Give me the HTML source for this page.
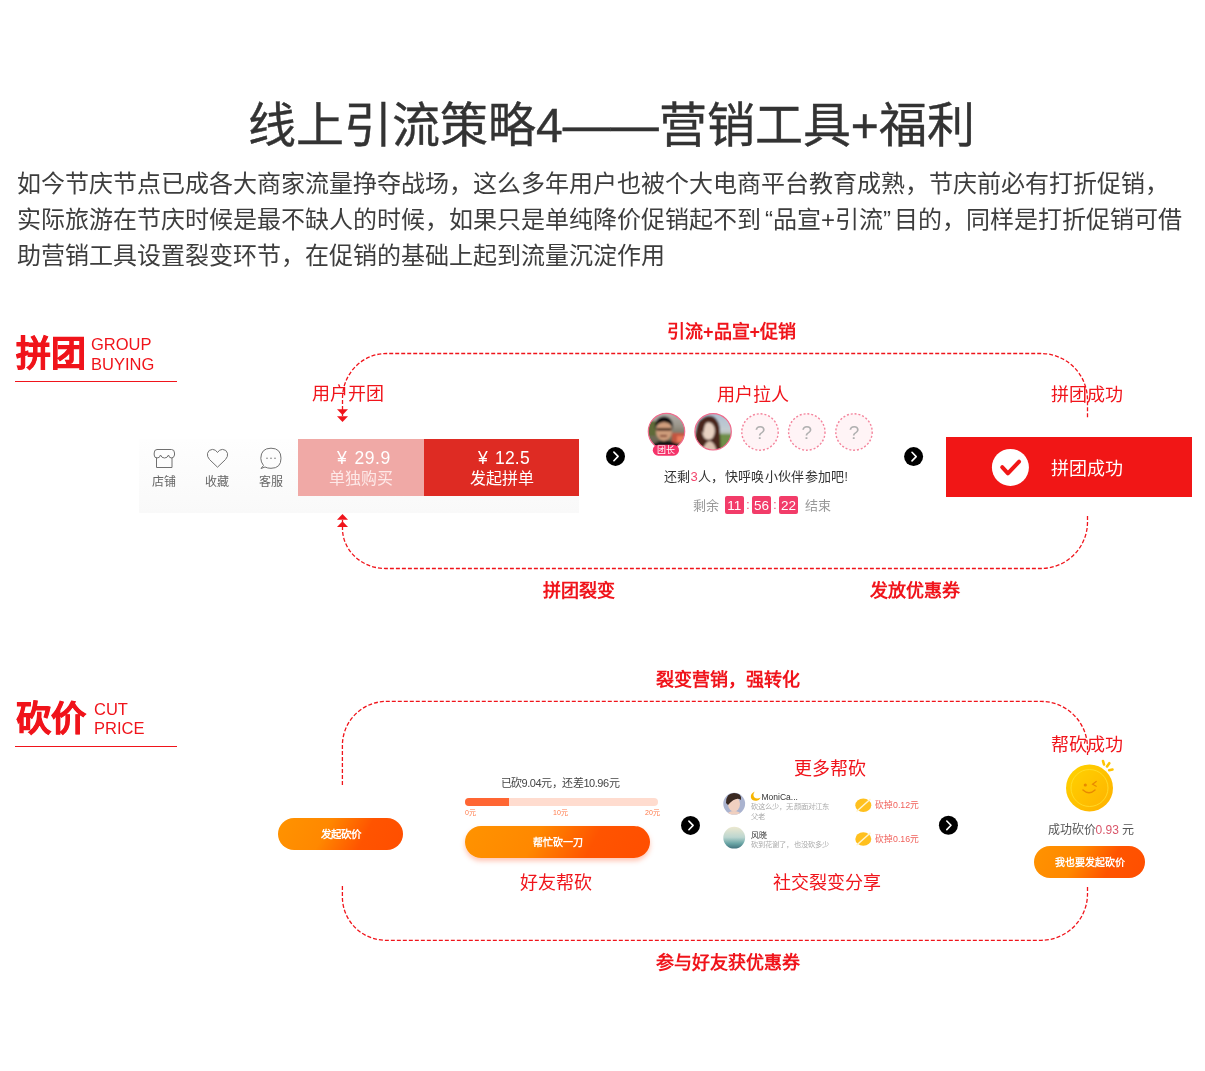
<!DOCTYPE html>
<html lang="zh-CN"><head><meta charset="utf-8">
<style>
html,body{margin:0;padding:0;background:#fff;}
body{width:1205px;height:1071px;position:relative;overflow:hidden;font-family:"Liberation Sans",sans-serif;}
.a{position:absolute;white-space:nowrap;line-height:1;}
.r{color:#f0141b;}
.b{font-weight:bold;}
#svg{position:absolute;left:0;top:0;}
</style></head><body>
<div id="wrap" style="position:absolute;left:0;top:0;width:1205px;height:1071px;will-change:transform;">

<!-- Title -->
<div class="a" style="left:248px;top:101.5px;font-size:48px;color:#333;-webkit-text-stroke:0.4px #333;">线上引流策略4——营销工具+福利</div>
<div class="a" style="left:17px;top:166px;font-size:24px;line-height:36px;color:#3d3d3d;">如今节庆节点已成各大商家流量挣夺战场，这么多年用户也被个大电商平台教育成熟，节庆前必有打折促销，</div>
<div class="a" style="left:17px;top:202px;font-size:24px;line-height:36px;color:#3d3d3d;">实际旅游在节庆时候是最不缺人的时候，如果只是单纯降价促销起不到<span style="display:inline-block;width:12px;text-align:right">“</span>品宣+引流<span style="display:inline-block;width:11px">”</span>目的，同样是打折促销可借</div>
<div class="a" style="left:17px;top:238px;font-size:24px;line-height:36px;color:#3d3d3d;">助营销工具设置裂变环节，在促销的基础上起到流量沉淀作用</div>

<!-- Section 1 header -->
<div class="a r b" style="left:16px;top:336px;font-size:35px;-webkit-text-stroke:0.8px #f0141b;">拼团</div>
<div class="a r" style="left:91px;top:335.5px;font-size:16.5px;">GROUP</div>
<div class="a r" style="left:91px;top:355.5px;font-size:16.5px;">BUYING</div>
<div class="a" style="left:15px;top:381px;width:162px;height:1.2px;background:#f0141b;"></div>

<!-- Section 2 header -->
<div class="a r b" style="left:16px;top:701px;font-size:35px;-webkit-text-stroke:0.8px #f0141b;">砍价</div>
<div class="a r" style="left:94px;top:700.5px;font-size:16.5px;">CUT</div>
<div class="a r" style="left:94px;top:720px;font-size:16.5px;">PRICE</div>
<div class="a" style="left:15px;top:746px;width:162px;height:1.2px;background:#f0141b;"></div>

<svg id="svg" width="1205" height="1071" viewBox="0 0 1205 1071">
 <g fill="none" stroke="#f0141b" stroke-width="1.3" stroke-dasharray="4 2">
  <!-- loop 1 -->
  <path d="M342.5 416 L342.5 399 A44 45 0 0 1 386.5 353.5 L1041 353.5 A46.5 46.5 0 0 1 1087.5 400 L1087.5 418"/>
  <path d="M342.5 520 L342.5 529 A43 40 0 0 0 385.5 568.5 L1041 568.5 A46.5 46.5 0 0 0 1087.5 522 L1087.5 515"/>
  <!-- loop 2 -->
  <path d="M342.4 785 L342.4 745.5 A44 44 0 0 1 386.4 701.4 L1041 701.4 A46.5 46.5 0 0 1 1087.5 748 L1087.5 755"/>
  <path d="M342.4 886 L342.4 897 A43.5 43.3 0 0 0 385.9 940.3 L1041 940.3 A46.5 46.5 0 0 0 1087.5 893.8 L1087.5 886"/>
 </g>
 <g fill="#f0141b">
  <path d="M337 409.3 L348 409.3 L342.5 415 Z"/>
  <path d="M337 416.3 L348 416.3 L342.5 422 Z"/>
  <path d="M337 519.7 L348 519.7 L342.5 514 Z"/>
  <path d="M337 527 L348 527 L342.5 521.3 Z"/>
 </g>
</svg>


<!-- product bar -->
<div class="a" style="left:139px;top:439px;width:440px;height:74px;background:linear-gradient(#fefefe,#f9f9f9);"></div>
<div class="a" style="left:298px;top:439px;width:126px;height:57px;background:#f0a9a6;"></div>
<div class="a" style="left:424px;top:439px;width:155px;height:57px;background:#de2b23;"></div>
<div class="a" style="left:337px;top:450px;font-size:17.5px;letter-spacing:0.5px;word-spacing:2px;color:#fff;">¥ 29.9</div>
<div class="a" style="left:298px;top:470.5px;width:126px;text-align:center;font-size:16px;color:#fde9e8;">单独购买</div>
<div class="a" style="left:478px;top:450px;font-size:17.5px;letter-spacing:0.2px;word-spacing:2px;color:#fff;">¥ 12.5</div>
<div class="a" style="left:424px;top:470.5px;width:155px;text-align:center;font-size:16px;color:#fff;">发起拼单</div>
<svg class="a" style="left:139px;top:439px" width="160" height="60" viewBox="139 439 160 60">
 <g fill="none" stroke="#707070" stroke-width="1">
  <path d="M156.5 457.5 L156.5 467.5 L172 467.5 L172 457.5"/>
  <path d="M157 449.5 L171.5 449.5 Q174.5 449.5 174.5 453 L174.5 455 Q174 458 171.5 458 Q169 458 168.5 455 Q167.5 458 164.5 458 Q161.5 458 160.5 455 Q160 458 157 458 Q154.3 458 154.2 455 L154.2 453 Q154.2 449.5 157 449.5 Z"/>
  <path d="M217.5 467.2 L209.5 459.5 Q206.8 456.5 207.5 453.3 Q208.5 449.5 212.5 449.4 Q215.8 449.5 217.5 452.5 Q219.2 449.5 222.5 449.4 Q226.5 449.5 227.5 453.3 Q228.2 456.5 225.5 459.5 Z"/>
  <path d="M263.5 465.5 Q260.8 462 260.8 458.3 Q261 448.3 271 448.2 Q281 448.3 281 458.3 Q281 468.3 271 468.3 Q267.5 468.3 265 467 L261 468.5 Z"/>
 </g>
 <g fill="#666"><circle cx="267" cy="458.3" r="0.7"/><circle cx="271" cy="458.3" r="0.7"/><circle cx="275" cy="458.3" r="0.7"/></g>
</svg>
<div class="a" style="left:152px;top:475.5px;font-size:12px;color:#666;">店铺</div>
<div class="a" style="left:205px;top:475.5px;font-size:12px;color:#666;">收藏</div>
<div class="a" style="left:259px;top:475.5px;font-size:12px;color:#666;">客服</div>

<!-- arrows -->
<svg class="a" style="left:0;top:0" width="1205" height="1071" viewBox="0 0 1205 1071">
  <g transform="translate(615.5 456.4)"><circle cx="0" cy="0" r="9.5" fill="#000"/><path d="M-1.6 -4.3 L2.6 0 L-1.6 4.3" fill="none" stroke="#fff" stroke-width="1.6" stroke-linecap="round" stroke-linejoin="round"/></g>
 <g transform="translate(913.6 456.6)"><circle cx="0" cy="0" r="9.5" fill="#000"/><path d="M-1.6 -4.3 L2.6 0 L-1.6 4.3" fill="none" stroke="#fff" stroke-width="1.6" stroke-linecap="round" stroke-linejoin="round"/></g>
 <g transform="translate(690.5 825.4)"><circle cx="0" cy="0" r="9.5" fill="#000"/><path d="M-1.6 -4.3 L2.6 0 L-1.6 4.3" fill="none" stroke="#fff" stroke-width="1.6" stroke-linecap="round" stroke-linejoin="round"/></g>
 <g transform="translate(948.4 825.3)"><circle cx="0" cy="0" r="9.5" fill="#000"/><path d="M-1.6 -4.3 L2.6 0 L-1.6 4.3" fill="none" stroke="#fff" stroke-width="1.6" stroke-linecap="round" stroke-linejoin="round"/></g>
</svg>

<!-- avatars -->
<svg class="a" style="left:640px;top:405px" width="240" height="60" viewBox="640 405 240 60">
 <defs>
  <clipPath id="c1"><circle cx="666.5" cy="431.5" r="18.2"/></clipPath>
  <clipPath id="c2"><circle cx="713.1" cy="431.8" r="18.2"/></clipPath>
  <filter id="bl" filterUnits="userSpaceOnUse" x="640" y="405" width="240" height="60"><feGaussianBlur stdDeviation="0.85"/></filter>
  <linearGradient id="msky" x1="0" y1="0" x2="0" y2="1"><stop offset="0" stop-color="#b9b7b4"/><stop offset="0.35" stop-color="#9a958a"/><stop offset="0.6" stop-color="#6f6a55"/><stop offset="1" stop-color="#5a5448"/></linearGradient>
  <linearGradient id="wsky" x1="0" y1="0" x2="0" y2="1"><stop offset="0" stop-color="#a9bdd2"/><stop offset="0.45" stop-color="#c4ccd0"/><stop offset="0.6" stop-color="#9aa58a"/><stop offset="1" stop-color="#6a8a48"/></linearGradient>
 </defs>
 <g clip-path="url(#c1)"><g filter="url(#bl)">
  <rect x="645" y="410" width="45" height="45" fill="url(#msky)"/>
  <rect x="647" y="421" width="9" height="15" fill="#5f6a38"/>
  <rect x="672" y="433" width="16" height="10" fill="#c2553f"/>
  <rect x="677" y="436" width="7" height="6" fill="#ea7a5a"/>
  <path d="M648 452 Q652 441 665 440 Q678 441 684 452 Z" fill="#121212"/>
  <ellipse cx="664" cy="431" rx="8" ry="10" fill="#cf9d7c"/>
  <path d="M655 430 Q654 417 664 416.5 Q674 417 673 430 Q672 422.5 664 422 Q656.5 422.5 655 430 Z" fill="#0e0e0e"/>
  <rect x="656.5" y="428" width="15" height="2.6" fill="#3a2418"/>
  <rect x="660" y="435" width="7" height="1.8" fill="#7a3a2a"/>
 </g></g>
 <circle cx="666.5" cy="431.5" r="18.2" fill="none" stroke="#f06a8c" stroke-width="1.2"/>
 <g clip-path="url(#c2)"><g filter="url(#bl)">
  <rect x="692" y="410" width="45" height="45" fill="url(#wsky)"/>
  <rect x="718" y="434" width="18" height="18" fill="#6f8f4a"/>
  <path d="M696 455 Q693 432 699 421 Q707 413 714 417 Q720 421 720 432 L721 455 Z" fill="#4a281e"/>
  <ellipse cx="708.5" cy="431" rx="6.3" ry="8.8" fill="#e8d2c2"/>
  <path d="M701 455 Q704 442 710 441 Q716 443 717 455 Z" fill="#dcc2b0"/>
  <path d="M701 429 Q702 418 710 419 Q704 423 703.5 433 Z" fill="#4a281e"/>
 </g></g>
 <circle cx="713.1" cy="431.8" r="18.2" fill="none" stroke="#f06a8c" stroke-width="1.2"/>
 <g fill="#fff4f6" stroke="#f4849c" stroke-width="1.4" stroke-dasharray="2 1.9">
  <circle cx="760" cy="432" r="18.2"/><circle cx="806.8" cy="432" r="18.2"/><circle cx="854" cy="432" r="18.2"/>
 </g>
 <rect x="652.8" y="444.7" width="26.2" height="11" rx="5.5" fill="#f5336a"/>
</svg>
<div class="a" style="left:653px;top:445.5px;width:26px;text-align:center;font-size:9px;color:#fff;">团长</div>
<div class="a" style="left:752px;top:422.5px;width:16px;text-align:center;font-size:19px;color:#b0b0b0;">?</div>
<div class="a" style="left:798.8px;top:422.5px;width:16px;text-align:center;font-size:19px;color:#b0b0b0;">?</div>
<div class="a" style="left:846px;top:422.5px;width:16px;text-align:center;font-size:19px;color:#b0b0b0;">?</div>

<div class="a" style="left:664px;top:469.5px;font-size:13px;letter-spacing:0.3px;color:#333;">还剩<span style="color:#f2466c">3</span>人，快呼唤小伙伴参加吧<span style="font-size:12px">!</span></div>
<div class="a" style="left:693px;top:498.5px;font-size:13px;color:#999;">剩余</div>
<div class="a" style="left:805px;top:498.5px;font-size:13px;color:#999;">结束</div>
<div class="a" style="left:725px;top:496px;width:18.6px;height:18.4px;border-radius:2px;background:#f23c69;"></div>
<div class="a" style="left:752px;top:496px;width:19px;height:18.4px;border-radius:2px;background:#f23c69;"></div>
<div class="a" style="left:779px;top:496px;width:19px;height:18.4px;border-radius:2px;background:#f23c69;"></div>
<div class="a" style="left:725px;top:499px;width:18.6px;text-align:center;font-size:13.5px;color:#fff;">11</div>
<div class="a" style="left:752px;top:499px;width:19px;text-align:center;font-size:13.5px;color:#fff;">56</div>
<div class="a" style="left:779px;top:499px;width:19px;text-align:center;font-size:13.5px;color:#fff;">22</div>
<div class="a" style="left:744px;top:499px;width:8px;text-align:center;font-size:12px;color:#f23c69;">:</div>
<div class="a" style="left:771px;top:499px;width:8px;text-align:center;font-size:12px;color:#f23c69;">:</div>

<!-- success -->
<div class="a" style="left:946px;top:437px;width:246px;height:60px;background:#f11616;"></div>
<svg class="a" style="left:990px;top:447px" width="42" height="42" viewBox="990 447 42 42">
 <circle cx="1010.4" cy="467.4" r="18.5" fill="#fff"/>
 <path d="M1002.2 467.2 L1007.9 473.4 L1019.1 461.6" fill="none" stroke="#f11616" stroke-width="4" stroke-linecap="round" stroke-linejoin="round"/>
</svg>
<div class="a" style="left:1051px;top:460px;font-size:18px;color:#fff;">拼团成功</div>

<!-- Section 1 labels -->
<div class="a r b" style="left:667px;top:323px;font-size:18px;">引流+品宣+促销</div>
<div class="a r" style="left:312px;top:385px;font-size:18px;">用户开团</div>
<div class="a r" style="left:717px;top:385.5px;font-size:18px;">用户拉人</div>
<div class="a r" style="left:1050.5px;top:385.5px;font-size:18px;">拼团成功</div>
<div class="a r b" style="left:543px;top:582px;font-size:18px;">拼团裂变</div>
<div class="a r b" style="left:870px;top:582px;font-size:18px;">发放优惠券</div>


<!-- section 2 components -->
<div class="a" style="left:278px;top:818px;width:125px;height:32px;border-radius:16px;background:linear-gradient(118deg,#ff9300 0%,#ff8800 38%,#ff5400 68%,#ff4e00 100%);"></div>
<div class="a b" style="left:278px;top:828.5px;width:125px;text-align:center;font-size:10.5px;color:#fff;">发起砍价</div>

<div class="a" style="left:500.5px;top:777.5px;font-size:11px;color:#444;letter-spacing:-0.45px;">已砍9.04元，还差10.96元</div>
<div class="a" style="left:465px;top:798px;width:193px;height:8px;border-radius:4px;background:#ffdccf;"></div>
<div class="a" style="left:465px;top:798px;width:44px;height:8px;border-radius:4px 0 0 4px;background:#ff6633;"></div>
<div class="a" style="left:465px;top:808.5px;font-size:7px;color:#ff7a4a;">0元</div>
<div class="a" style="left:553px;top:808.5px;font-size:7px;color:#ff7a4a;">10元</div>
<div class="a" style="left:645px;top:808.5px;font-size:7px;color:#ff7a4a;">20元</div>
<div class="a" style="left:465px;top:826px;width:185px;height:32px;border-radius:16px;background:linear-gradient(118deg,#ff9300 0%,#ff8800 38%,#ff5400 68%,#ff4e00 100%);box-shadow:0 3px 5px rgba(255,90,40,0.35);"></div>
<div class="a b" style="left:465px;top:838px;width:185px;text-align:center;font-size:10px;color:#fff;">帮忙砍一刀</div>

<svg class="a" style="left:715px;top:785px" width="210" height="70" viewBox="715 785 210 70">
 <defs>
  <clipPath id="s1"><circle cx="734.2" cy="803.7" r="10.9"/></clipPath>
  <clipPath id="s2"><circle cx="734.2" cy="837.7" r="10.9"/></clipPath>
  <linearGradient id="sea" x1="0" y1="0" x2="0" y2="1"><stop offset="0" stop-color="#f0ead0"/><stop offset="0.45" stop-color="#bcd6d0"/><stop offset="0.7" stop-color="#6aa5a5"/><stop offset="1" stop-color="#2e5a6a"/></linearGradient>
 </defs>
 <g clip-path="url(#s1)">
  <rect x="722" y="792" width="25" height="25" fill="#aab3cf"/>
  <ellipse cx="734" cy="804" rx="6" ry="7.5" fill="#f0d0c0"/>
  <path d="M726 803 Q726 793 734 793 Q742 793 741 800 Q736 796 728 805 Z" fill="#3a2a22"/>
  <path d="M724 817 Q728 811 734 811 Q740 811 744 817 Z" fill="#f0d0c0"/>
 </g>
 <g clip-path="url(#s2)"><rect x="722" y="826" width="25" height="25" fill="url(#sea)"/></g>
 <path d="M754.8 791.6 Q750.2 793.8 750.9 797.6 Q751.8 801.2 756.5 800.8 Q759.6 800.4 760.8 797.6 Q756.8 799.6 754.2 797.2 Q752.4 794.6 754.8 791.6 Z" fill="#f7b500"/>
 <g>
  <ellipse cx="863.3" cy="805.3" rx="8" ry="6.7" fill="#ffc01e"/>
  <path d="M856.5 811.5 L870.5 799" stroke="#fff4d0" stroke-width="1.5"/>
  <ellipse cx="863.3" cy="839" rx="8" ry="6.7" fill="#ffc01e"/>
  <path d="M856.5 845.2 L870.5 832.7" stroke="#fff4d0" stroke-width="1.5"/>
 </g>
</svg>
<div class="a" style="left:761.5px;top:792.5px;font-size:8.5px;color:#333;">MoniCa...</div>
<div class="a" style="left:750.5px;top:803px;font-size:7.3px;letter-spacing:0.2px;color:#aaa;">砍这么少，无颜面对江东</div>
<div class="a" style="left:750.5px;top:812.5px;font-size:7.3px;color:#aaa;">父老</div>
<div class="a" style="left:750.5px;top:831.5px;font-size:8px;color:#333;">风晓</div>
<div class="a" style="left:750.5px;top:840.5px;font-size:7.3px;letter-spacing:0.2px;color:#aaa;">砍到花谢了，也没砍多少</div>
<div class="a" style="left:875px;top:800.8px;font-size:8.8px;color:#f0605a;">砍掉0.12元</div>
<div class="a" style="left:875px;top:834.5px;font-size:8.8px;color:#f0605a;">砍掉0.16元</div>

<svg class="a" style="left:1055px;top:755px" width="70" height="65" viewBox="1055 755 70 65">
 <defs>
  <linearGradient id="coin" x1="0" y1="0" x2="1" y2="1"><stop offset="0" stop-color="#ffd400"/><stop offset="1" stop-color="#ffb000"/></linearGradient>
  <linearGradient id="coin2" x1="0" y1="0" x2="1" y2="1"><stop offset="0" stop-color="#ffd000"/><stop offset="1" stop-color="#ffb400"/></linearGradient>
 </defs>
 <circle cx="1089.5" cy="788" r="23.5" fill="url(#coin)"/>
 <circle cx="1089.5" cy="788" r="18.5" fill="url(#coin2)" stroke="#ffe030" stroke-width="0.8"/>
 <circle cx="1085.3" cy="785" r="1.6" fill="#e88a00"/>
 <path d="M1096.2 781.5 L1092.6 784.2 L1096.2 786.2" fill="none" stroke="#e88a00" stroke-width="1.3" stroke-linecap="round"/>
 <path d="M1083 790 Q1089 795.5 1095 790" fill="none" stroke="#e88a00" stroke-width="1.5" stroke-linecap="round"/>
 <g stroke="#ffc400" stroke-width="2.6" stroke-linecap="round">
  <path d="M1103 761 L1104 764.5"/><path d="M1109.3 763.2 L1107 766.5"/><path d="M1112.5 769.5 L1109.2 770.3"/>
 </g>
</svg>
<div class="a" style="left:1047.5px;top:824px;font-size:12px;color:#555;">成功砍价<span style="color:#d9566a">0.93</span> 元</div>
<div class="a" style="left:1034px;top:846px;width:111px;height:32px;border-radius:16px;background:linear-gradient(118deg,#ff9300 0%,#ff8800 38%,#ff5400 68%,#ff4e00 100%);"></div>
<div class="a b" style="left:1034px;top:857.5px;width:111px;text-align:center;font-size:10px;color:#fff;">我也要发起砍价</div>

<!-- Section 2 labels -->
<div class="a r b" style="left:656px;top:671px;font-size:18px;">裂变营销，强转化</div>
<div class="a r b" style="left:656px;top:954px;font-size:18px;">参与好友获优惠券</div>
<div class="a r" style="left:519.5px;top:874px;font-size:18px;">好友帮砍</div>
<div class="a r" style="left:793.5px;top:759.5px;font-size:18px;">更多帮砍</div>
<div class="a r" style="left:772.5px;top:874px;font-size:18px;">社交裂变分享</div>
<div class="a r" style="left:1051px;top:736px;font-size:18px;">帮砍成功</div>

</div>
</body></html>
